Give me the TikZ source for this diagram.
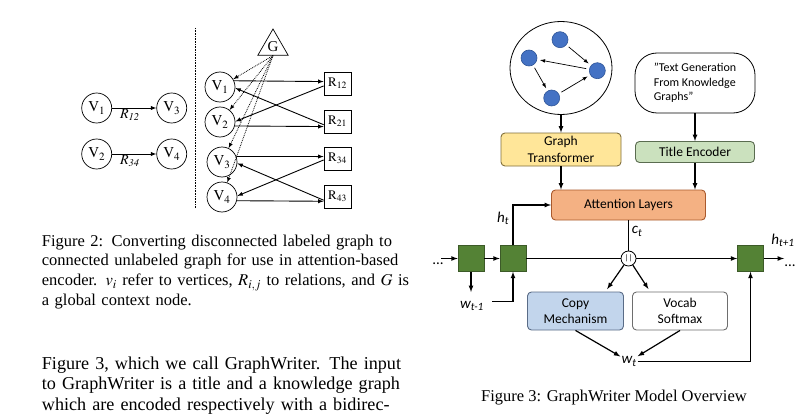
\documentclass[tikz,border=0pt]{standalone}
\usepackage{amsmath}
\usepackage{mathptmx}
\usepackage{fontspec}
\setmainfont{Liberation Serif}
\setsansfont{Carlito}
\usepackage{tikz}
\usetikzlibrary{shapes,arrows,positioning}

\definecolor{gtFill}{RGB}{255,230,153}
\definecolor{gtLine}{RGB}{130,112,60}
\definecolor{teFill}{RGB}{203,225,190}
\definecolor{teLine}{RGB}{90,108,80}
\definecolor{attFill}{RGB}{244,177,131}
\definecolor{attLine}{RGB}{170,90,45}
\definecolor{copyFill}{RGB}{194,213,236}
\definecolor{copyLine}{RGB}{90,108,135}
\definecolor{vocabLine}{RGB}{110,110,110}
\definecolor{cellFill}{RGB}{84,130,53}
\definecolor{cellLine}{RGB}{60,90,40}
\definecolor{dotFill}{RGB}{68,114,196}
\definecolor{dotLine}{RGB}{47,85,151}

\begin{document}
\begin{tikzpicture}[x=1pt,y=-1pt]
			\tikzstyle{Vertex}	= [circle, draw, minimum size=30pt, inner sep=0pt, line width=0.7pt, font=\fontsize{15}{15}\selectfont]
			\tikzstyle{Relation}	= [rectangle, draw, minimum width=27pt, minimum height=23pt, inner sep=0pt, line width=0.7pt, font=\fontsize{13}{13}\selectfont]
			\tikzstyle{Global}	= [regular polygon, regular polygon sides=3, draw, minimum size=35pt, inner sep=0pt, line width=0.7pt, font=\fontsize{15}{15}\selectfont]
			\tikzstyle{Edge}	= [line width=0.9pt]
			\tikzstyle{Ctx}		= [densely dotted, line width=0.8pt]
			\tikzstyle{Sep}		= [densely dotted, line width=0.6pt]
			\tikzstyle{EdgeLabel}	= [below, inner sep=1pt, pos=0.4, font=\fontsize{14}{14}\selectfont]
			\tikzstyle{Para}	= [text width=361pt, inner sep=0pt, align=left, anchor=base west]
			\tikzstyle{Block}	= [rectangle, rounded corners=4pt, draw, line width=0.9pt, align=center, inner sep=0pt, font=\sffamily\fontsize{13.5}{16.5}\selectfont]
			\tikzstyle{Cell}	= [rectangle, draw=cellLine, fill=cellFill, minimum size=26pt, inner sep=0pt, line width=0.6pt]
			\tikzstyle{Dot}		= [circle, draw=dotLine, fill=dotFill, minimum size=16pt, inner sep=0pt, line width=0.6pt]
			\tikzstyle{Flow}	= [line width=1.2pt]
			\tikzstyle{Sym}		= [inner sep=1pt, font=\sffamily\fontsize{15}{15}\selectfont]

			\useasboundingbox [fill=white] (0,0) rectangle (810,417);

			\node (lv1) at (96.7,108) [Vertex] {$\mathrm{V}_1$};
			\node (lv3) at (171.7,108) [Vertex] {$\mathrm{V}_3$};
			\node (lv2) at (96.7,154) [Vertex] {$\mathrm{V}_2$};
			\node (lv4) at (171.7,154) [Vertex] {$\mathrm{V}_4$};

			\draw [-latex] (lv1) to node [EdgeLabel] {$R_{\mathit{12}}$} (lv3) [Edge];
			\draw [-latex] (lv2) to node [EdgeLabel] {$R_{\mathit{34}}$} (lv4) [Edge];

			\coordinate (sepTop) at (195,28);
			\coordinate (sepBot) at (195,208);
			\draw (sepTop) to (sepBot) [Sep];

			\node (g) at (273,46.5) [Global] {G};
			\node (rv1) at (220,87) [Vertex] {$\mathrm{V}_1$};
			\node (rv2) at (220,122) [Vertex] {$\mathrm{V}_2$};
			\node (rv3) at (222,162) [Vertex] {$\mathrm{V}_3$};
			\node (rv4) at (222,197) [Vertex] {$\mathrm{V}_4$};
			\node (r12) at (337.5,83.5) [Relation] {$\mathrm{R}_{12}$};
			\node (r21) at (337.5,121.5) [Relation] {$\mathrm{R}_{21}$};
			\node (r34) at (337.5,158.5) [Relation] {$\mathrm{R}_{34}$};
			\node (r43) at (337.5,196.5) [Relation] {$\mathrm{R}_{43}$};

			\draw [-latex] (rv1.24) to (r12.172) [Edge];
			\draw [-latex] (r12.190) to (rv2.2) [Edge];
			\draw [-latex] (r21.193) to (rv1.-4) [Edge];
			\draw [-latex] (rv2.-15) to (r21.200) [Edge];
			\draw [-latex] (rv3.21) to (r34.172) [Edge];
			\draw [-latex] (r34.186) to (rv4.4) [Edge];
			\draw [-latex] (r43.195) to (rv3.-5) [Edge];
			\draw [-latex] (rv4.-14) to (r43.199) [Edge];

			\draw [-latex] (g.south) to (rv1) [Ctx];
			\draw [-latex] (g.south) to (rv2) [Ctx];
			\draw [-latex] (g.south) to (rv3) [Ctx];
			\draw [-latex] (g.south) to (rv4) [Ctx];

			\node (capA) at (41.7,246) [Para, font=\fontsize{16.5}{19.8}\selectfont] {\makebox[\linewidth][s]{Figure 2: Converting disconnected labeled graph to}\\\makebox[\linewidth][s]{connected unlabeled graph for use in attention-based}\\\makebox[\linewidth][s]{encoder. $v_i$ refer to vertices, $R_{i,j}$ to relations, and $G$ is}\\a global context node.};
			\node (body) at (41.7,369) [Para, font=\fontsize{18.15}{20.5}\selectfont] {\makebox[\linewidth][s]{Figure 3, which we call GraphWriter. The input}\\\makebox[\linewidth][s]{to GraphWriter is a title and a knowledge graph}\\\makebox[\linewidth][s]{which are encoded respectively with a bidirec-}};

			\node (kg) at (561,68) [ellipse, draw, minimum width=102pt, minimum height=93pt, line width=0.8pt] {};
			\node (d1) at (560,39.7) [Dot] {};
			\node (d2) at (529,58) [Dot] {};
			\node (d3) at (597.3,70.7) [Dot] {};
			\node (d4) at (551.7,98) [Dot] {};
			\draw [-latex] (d1) to (d3) [line width=0.7pt, shorten <=3pt, shorten >=3pt];
			\draw [-latex] (d3) to (d2) [line width=0.7pt, shorten <=3pt, shorten >=3pt];
			\draw [-latex] (d2) to (d4) [line width=0.7pt, shorten <=3pt, shorten >=3pt];
			\draw [-latex] (d4) to (d3) [line width=0.7pt, shorten <=3pt, shorten >=3pt];

			\node (title) at (695,83) [rectangle, rounded corners=22pt, draw, line width=0.8pt, minimum width=120pt, minimum height=60pt, align=left, font=\sffamily\fontsize{12}{14.3}\selectfont] {"Text Generation\\From Knowledge\\Graphs"};

			\node (gt) at (561,149.5) [Block, fill=gtFill, draw=gtLine, minimum width=120pt, minimum height=33pt] {Graph\\Transformer};
			\node (te) at (695,152) [Block, fill=teFill, draw=teLine, minimum width=119pt, minimum height=21pt] {Title Encoder};
			\node (att) at (628.5,205) [Block, fill=attFill, draw=attLine, minimum width=154pt, minimum height=30pt] {Attention Layers};
			\node (copy) at (575.5,311) [Block, fill=copyFill, draw=copyLine, minimum width=96pt, minimum height=38pt] {Copy\\Mechanism};
			\node (vocab) at (680,311) [Block, fill=white, draw=vocabLine, minimum width=95pt, minimum height=38pt] {Vocab\\Softmax};

			\node (s1) at (471,258.5) [Cell] {};
			\node (s2) at (513,258.5) [Cell] {};
			\node (s3) at (750.5,258.5) [Cell] {};
			\node (cat) at (628.5,258.5) [circle, draw, fill=white, minimum size=15pt, inner sep=0pt, line width=0.8pt, font=\sffamily\fontsize{8}{8}\selectfont] {||};

			\node (ht) at (503,218) [Sym] {$\textit{h}_{\textit{t}}$};
			\node (ct) at (637,231.5) [Sym] {$\textit{c}_{\textit{t}}$};
			\node (ht1) at (783,240) [Sym] {$\textit{h}_{\textit{t+1}}$};
			\node (wt1) at (472,306) [Sym] {$\textit{w}_{\textit{t-1}}$};
			\node (wt) at (629,361.5) [Sym] {$\textit{w}_{\textit{t}}$};
			\node (dotsL) at (438,264) [Sym] {...};
			\node (dotsR) at (790,265.5) [Sym] {...};

			\coordinate (inL) at (441,258.5);
			\coordinate (outR) at (784,258.5);
			\coordinate (wdown) at (471,292);
			\coordinate (wprevR) at (492,301.5);

			\draw [-latex] (kg) to (gt) [Flow];
			\draw [-latex] (title) to (te) [Flow];
			\draw [-latex] (gt) to (gt |- att.north) [Flow];
			\draw [-latex] (te) to (te |- att.north) [Flow];
			\draw [-latex] (s2) |- (att) [Flow];
			\draw [-] (att) to (cat) [Flow];
			\draw [-latex] (inL) to (s1) [Flow];
			\draw [-latex] (s1) to (s2) [Flow];
			\draw [-] (s2) to (cat) [Flow];
			\draw [-latex] (cat) to (s3) [Flow];
			\draw [-latex] (s3) to (outR) [Flow];
			\draw [-latex] (s1) to (wdown) [Flow];
			\draw [-latex] (wprevR) -| (s2) [Flow];
			\draw [-latex] (cat) to (copy.33) [Flow, shorten >=3pt];
			\draw [-latex] (cat) to (vocab.147) [Flow, shorten >=3pt];
			\draw [-latex] (copy.south) to (wt) [Flow];
			\draw [-latex] (vocab.south) to (wt) [Flow];
			\draw [-latex] (wt) -| (s3) [Flow];

			\node (capB) at (614,401) [anchor=base, font=\fontsize{16.5}{19.8}\selectfont] {Figure 3: GraphWriter Model Overview};
		\end{tikzpicture}
\end{document}
